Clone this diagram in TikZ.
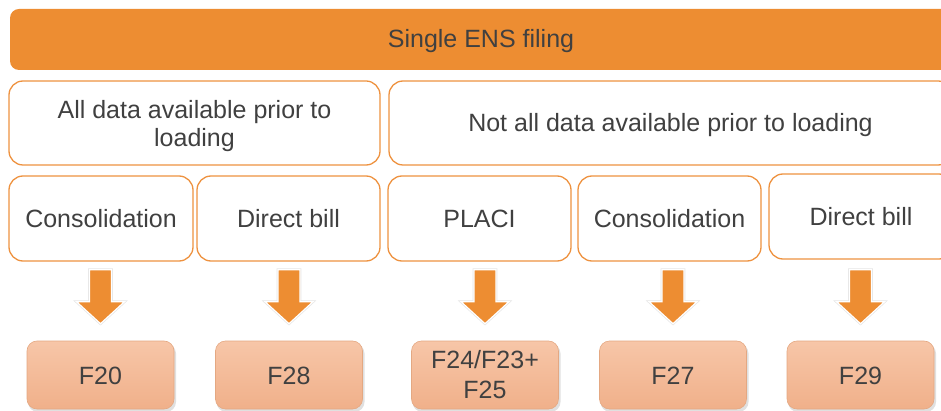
\documentclass[tikz,border=0pt]{standalone}
\usepackage{fontspec}
\setmainfont{Liberation Sans}
\usetikzlibrary{calc}
\definecolor{barorange}{RGB}{237,141,50}
\definecolor{lineorange}{RGB}{238,146,64}
\definecolor{txtgray}{RGB}{64,64,64}
\definecolor{peachtop}{RGB}{247,198,168}
\definecolor{peachbot}{RGB}{240,176,138}
\definecolor{peachline}{RGB}{228,168,130}
\newcommand{\lowered}[2][3pt]{\raisebox{-#1}[\height][\depth]{\begin{tabular}{@{}c@{}}#2\end{tabular}}}
\tikzset{
  every node/.style={font=\fontsize{25}{30}\selectfont, text=txtgray, align=center, inner sep=0pt},
  bar/.style={fill=barorange, draw=none, rounded corners=9pt},
  whitebox/.style={fill=white, draw=lineorange, line width=1.3pt, rounded corners=14pt},
  resultbox/.style={top color=peachtop, bottom color=peachbot, draw=peachline, line width=0.6pt, rounded corners=10pt,
     minimum width=147pt, minimum height=68pt},
  blockarrow/.style={fill=barorange, draw=white, line width=1.2pt},
  arrowhalo/.style={draw=black!10, line width=2.6pt, line join=miter},
}
\begin{document}
\begin{tikzpicture}[x=1pt,y=-1pt]
\useasboundingbox (0,0) rectangle (941,411);
\clip (0,0) rectangle (941,411);
% top bar
\node[bar, minimum width=942pt, minimum height=61pt] (top) at (481,39.5) {\lowered[2pt]{Single ENS filing}};
% second row
\node[whitebox, minimum width=371pt, minimum height=84pt] (all) at (194.5,123)
  {\fontsize{25}{28.5}\selectfont\lowered[4pt]{All data available prior to\\loading}};
\node[whitebox, minimum width=563pt, minimum height=84pt] (notall) at (670.5,123) {\lowered[2.5pt]{Not all data available prior to loading}};
% third row
\node[whitebox, minimum width=184pt, minimum height=85pt] (c1) at (101,218.5) {Consolidation};
\node[whitebox, minimum width=183pt, minimum height=85pt] (c2) at (288.5,218.5) {Direct bill};
\node[whitebox, minimum width=183pt, minimum height=85pt] (c3) at (479.5,218.5) {PLACI};
\node[whitebox, minimum width=183pt, minimum height=85pt] (c4) at (669.5,218.5) {Consolidation};
\node[whitebox, minimum width=184pt, minimum height=85pt] (c5) at (861,216.5) {Direct bill};
% results
\foreach \n/\x/\t/\s in {r1/100.5/F20/3.5pt, r2/289/F28/3.5pt, r3/485/{F24/F23+\\F25}/2pt, r4/673/F27/3.5pt, r5/860.5/F29/3.5pt}{
  \fill[black!12, rounded corners=10pt] (\x-72.5,343.5) rectangle (\x+75.5,412);
  \node[resultbox] (\n) at (\x,375) {\lowered[\s]{\t}};
}
% block arrows
\foreach \r in {r1,r2,r3,r4,r5}{
  \path (\r.north) ++(0,-71) coordinate (t);
  \draw[arrowhalo] (t) ++(-11,0) -- ++(22,0) -- ++(0,32) -- ++(13,0) -- ++(-24,22) -- ++(-24,-22) -- ++(13,0) -- cycle;
  \draw[blockarrow] (t) ++(-11,0) -- ++(22,0) -- ++(0,32) -- ++(13,0) -- ++(-24,22) -- ++(-24,-22) -- ++(13,0) -- cycle;
}
\end{tikzpicture}
\end{document}
